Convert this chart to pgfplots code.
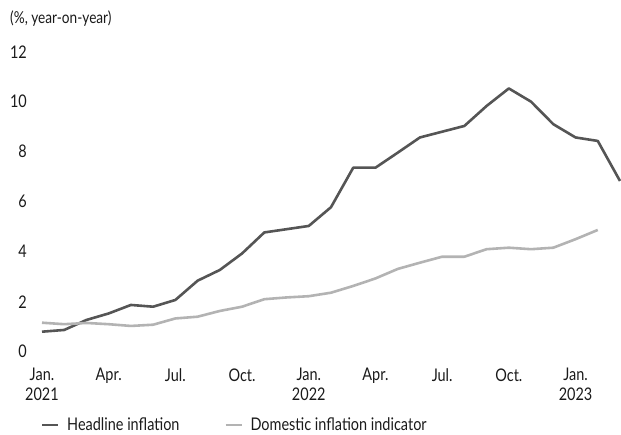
\documentclass[border=0pt]{standalone}
\usepackage{fontspec}
\setmainfont{Lato}[FakeStretch=0.83]
\usepackage{pgfplots}
\pgfplotsset{compat=1.18}
\definecolor{headc}{HTML}{555555}
\definecolor{domc}{HTML}{B3B3B3}
\definecolor{txt}{HTML}{1A1A1A}
\begin{document}
\begin{tikzpicture}
\begin{axis}[
  scale only axis, width=578bp, height=300bp,
  xmin=0, xmax=26, ymin=0, ymax=12,
  clip=false,
  axis line style={draw=none},
  major tick length=0pt,
  tick style={draw=none},
  ytick={0,2,4,6,8,10,12},
  xtick={0,3,6,9,12,15,18,21,24},
  xticklabels={Jan.\\2021,Apr.,Jul.,Oct.,Jan.\\2022,Apr.,Jul.,Oct.,Jan.\\2023},
  /pgf/number format/assume math mode=true,
  ticklabel style={font=\fontsize{17.5}{19.5}\selectfont, text=txt},
  yticklabel style={anchor=east, inner sep=0pt, xshift=-15bp},
  xticklabel style={anchor=north, inner sep=0pt, align=center, yshift=-16.5bp},
  legend columns=2,
  legend cell align=left,
  legend style={at={(rel axis cs:0,0)}, anchor=west, xshift=-1bp, yshift=-73.3bp,
    draw=none, fill=none, inner sep=0pt,
    font=\fontsize{17.5}{19}\selectfont, text=txt,
    nodes={inner sep=0pt},
    /tikz/every odd column/.append style={column sep=8bp},
    /tikz/every even column/.append style={column sep=45bp}},
  legend image code/.code={\draw[#1, line width=2bp] (0bp,0bp) -- (16bp,0bp);},
]
\addplot[headc, line width=2.6bp, line join=round] coordinates {
(0,0.80) (1,0.87) (2,1.27) (3,1.53) (4,1.87) (5,1.80) (6,2.07) (7,2.84) (8,3.27) (9,3.93)
(10,4.77) (11,4.90) (12,5.03) (13,5.78) (14,7.36) (15,7.36) (16,7.96) (17,8.57) (18,8.80)
(19,9.03) (20,9.83) (21,10.53) (22,10.00) (23,9.10) (24,8.57) (25,8.43) (26,6.83)};
\addlegendentry{Headline inflation}
\addplot[domc, line width=2.6bp, line join=round] coordinates {
(0,1.16) (1,1.10) (2,1.15) (3,1.10) (4,1.03) (5,1.08) (6,1.33) (7,1.40) (8,1.63) (9,1.80)
(10,2.10) (11,2.17) (12,2.22) (13,2.36) (14,2.63) (15,2.93) (16,3.31) (17,3.56) (18,3.80)
(19,3.80) (20,4.10) (21,4.16) (22,4.10) (23,4.16) (24,4.50) (25,4.87)};
\addlegendentry{Domestic inflation indicator}
\coordinate (O) at (rel axis cs:0,0);
\node[anchor=base west, inner sep=0pt, font=\fontsize{16.5}{18}\selectfont, text=txt]
  at (rel axis cs:0,1) [xshift=-32bp, yshift=27.7bp] {(\%, year-on-year)};
\end{axis}
\pgfresetboundingbox
\path (O) ++(-42bp,-83.3bp) rectangle ++(621bp,435bp);
\end{tikzpicture}
\end{document}
